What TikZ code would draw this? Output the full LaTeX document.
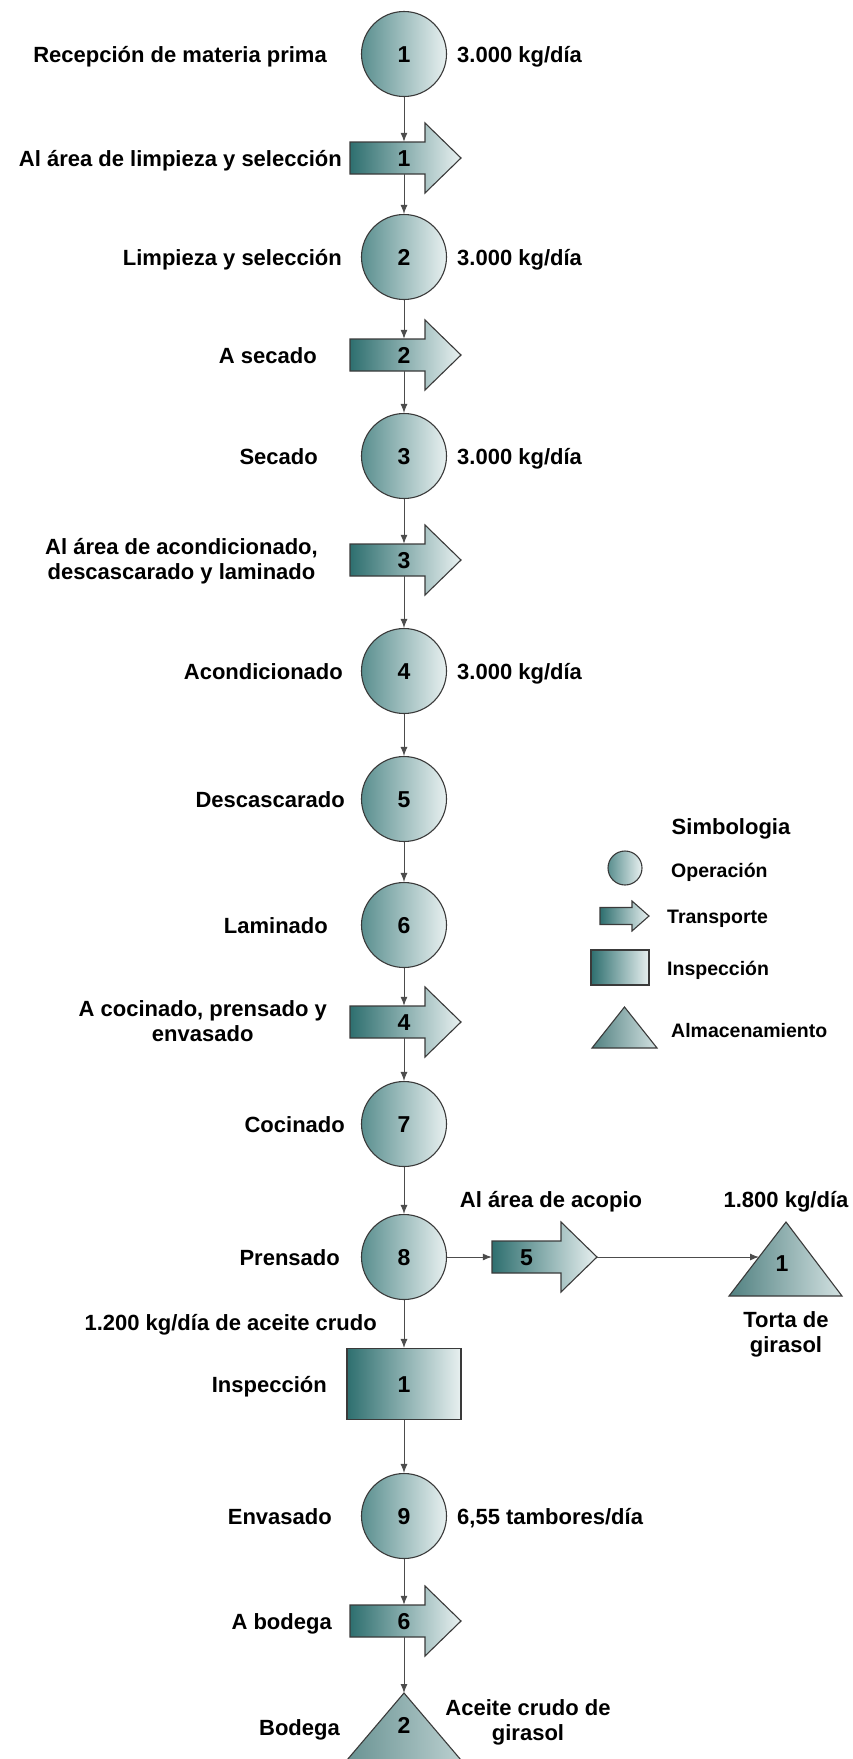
\documentclass[tikz,border=0pt]{standalone}
\usepackage{fontspec}
\setmainfont{Liberation Sans}
\usetikzlibrary{arrows.meta}
\definecolor{verdeosc}{HTML}{2E6F6F}
\definecolor{verdemed}{HTML}{5A8F8F}
\definecolor{verdeclaro}{HTML}{E8F0F0}
\definecolor{borde}{HTML}{3A3A3A}
\newcommand{\flechatransp}[3]{%
  \draw[transp] (#1,#2-16) -- ++(#3,0) -- ++(0,-19) -- ++(36,35) -- ++(-36,35) -- ++(0,-19) -- ++(-#3,0) -- cycle;}
\tikzset{
  operacion/.style={circle,draw=borde,line width=1.1pt,left color=verdemed,right color=verdeclaro,
    minimum size=85pt,inner sep=0pt,text height=16pt,text depth=0pt,font=\fontsize{23}{25}\selectfont\bfseries},
  transp/.style={draw=borde,line width=1.1pt,left color=verdeosc,right color=verdeclaro},
  inspec/.style={rectangle,draw=borde,line width=1.1pt,left color=verdeosc,right color=verdeclaro,
    minimum width=114pt,minimum height=71pt,text height=16pt,text depth=0pt,font=\fontsize{23}{25}\selectfont\bfseries},
  almac/.style={draw=borde,line width=1.1pt,left color=verdemed!90!black,right color=verdeclaro!85!verdemed},
  cifra/.style={inner sep=0pt,minimum height=32pt,text height=16pt,text depth=0pt,font=\fontsize{23}{25}\selectfont\bfseries},
  etiq/.style={anchor=east,inner sep=0pt,text height=16pt,text depth=0pt},
  dato/.style={anchor=west,inner sep=0pt,text height=16pt,text depth=0pt},
  leyenda/.style={anchor=west,inner sep=0pt,text height=14pt,text depth=0pt,font=\fontsize{19.5}{22}\selectfont\bfseries},
  flujo/.style={->,draw=black!70,line width=1pt},
}

\begin{document}
\begin{tikzpicture}[x=1pt,y=-1pt,>={Latex[length=9pt,width=7pt]},font=\fontsize{22}{25}\selectfont\bfseries]
 \useasboundingbox (0,0) rectangle (852,1759);
 \clip (0,0) rectangle (852,1759);
 % eje principal del proceso
 \node[operacion] (c1) at (404,54) {1};
 \flechatransp{350}{158}{75}
 \node[cifra] (t1) at (404,158) {1};
 \node[operacion] (c2) at (404,257) {2};
 \flechatransp{350}{355}{75}
 \node[cifra] (t2) at (404,355) {2};
 \node[operacion] (c3) at (404,456) {3};
 \flechatransp{350}{560}{75}
 \node[cifra] (t3) at (404,560) {3};
 \node[operacion] (c4) at (404,671) {4};
 \node[operacion] (c5) at (404,799) {5};
 \node[operacion] (c6) at (404,925) {6};
 \flechatransp{350}{1022}{75}
 \node[cifra] (t4) at (404,1022) {4};
 \node[operacion] (c7) at (404,1124) {7};
 \node[operacion] (c8) at (404,1257) {8};
 \node[inspec] (i1) at (404,1384) {1};
 \node[operacion] (c9) at (404,1516) {9};
 \flechatransp{350}{1621}{75}
 \node[cifra] (t6) at (404,1621) {6};
 \draw[almac] (404,1693) -- (495,1800) -- (313,1800) -- cycle;
 \node[cifra] (a2) at (404,1725) {2};
 \coordinate (a2top) at (404,1693);
 % rama de la torta
 \flechatransp{492}{1257}{69}
 \node[cifra,minimum width=69pt] (t5) at (526.5,1257) {5};
 \coordinate (t5tip) at (597,1257);
 \draw[almac] (786,1222) -- (842,1296) -- (729,1296) -- cycle;
 \node[cifra] (a1) at (782,1263) {1};
 \coordinate (a1w) at (759,1257);
 % conectores
 \draw[flujo] (c1) -- (t1);
 \draw[flujo] (t1) -- (c2);
 \draw[flujo] (c2) -- (t2);
 \draw[flujo] (t2) -- (c3);
 \draw[flujo] (c3) -- (t3);
 \draw[flujo] (t3) -- (c4);
 \draw[flujo] (c4) -- (c5);
 \draw[flujo] (c5) -- (c6);
 \draw[flujo] (c6) -- (t4);
 \draw[flujo] (t4) -- (c7);
 \draw[flujo] (c7) -- (c8);
 \draw[flujo] (c8) -- (t5);
 \draw[flujo] (t5tip) -- (a1w);
 \draw[flujo] (c8) -- (i1);
 \draw[flujo] (i1) -- (c9);
 \draw[flujo] (c9) -- (t6);
 \draw[flujo] (t6) -- (a2top);
 % etiquetas a la izquierda
 \node[etiq] (l1) at (327,54) {Recepción de materia prima};
 \node[etiq] (l2) at (342,158) {Al área de limpieza y selección};
 \node[etiq] (l3) at (342,257) {Limpieza y selección};
 \node[etiq] (l4) at (317,355) {A secado};
 \node[etiq] (l5) at (318,456) {Secado};
 \node[anchor=east,inner sep=0pt,align=center] (l6) at (318,561) {Al área de acondicionado,\\descascarado y laminado};
 \node[etiq] (l7) at (343,671) {Acondicionado};
 \node[etiq] (l8) at (345,799) {Descascarado};
 \node[etiq] (l9) at (328,925) {Laminado};
 \node[anchor=east,inner sep=0pt,align=center] (l10) at (327,1021) {A cocinado, prensado y\\envasado};
 \node[etiq] (l11) at (345,1124) {Cocinado};
 \node[etiq] (l12) at (340,1257) {Prensado};
 \node[etiq] (l13) at (377,1322) {1.200 kg/día de aceite crudo};
 \node[etiq] (l14) at (327,1384) {Inspección};
 \node[etiq] (l15) at (332,1516) {Envasado};
 \node[etiq] (l16) at (332,1621) {A bodega};
 \node[etiq] (l17) at (340,1727) {Bodega};
 % datos a la derecha
 \node[dato] (d1) at (457,54) {3.000 kg/día};
 \node[dato] (d2) at (457,257) {3.000 kg/día};
 \node[dato] (d3) at (457,456) {3.000 kg/día};
 \node[dato] (d4) at (457,671) {3.000 kg/día};
 \node[dato] (d9) at (457,1516) {6,55 tambores/día};
 \node (d5) at (551,1202) {Al área de acopio};
 \node (d6) at (786,1202) {1.800 kg/día};
 \node[align=center] (d7) at (786,1334) {Torta de\\girasol};
 \node[align=center] (d8) at (528,1722) {Aceite crudo de\\girasol};
 % simbologia
 \node (simb) at (731,829) {Simbologia};
 \node[operacion,minimum size=34pt] (lc) at (625,868) {};
 \draw[transp] (600,907.5) -- (632,907.5) -- (632,901) -- (649,916) -- (632,931) -- (632,924.5) -- (600,924.5) -- cycle;
 \node[inspec,minimum width=58pt,minimum height=35pt] (lr) at (620,967.5) {};
 \draw[almac] (624.5,1007) -- (657,1048) -- (592,1048) -- cycle;
 \node[leyenda] (s1) at (671,870) {Operación};
 \node[leyenda] (s2) at (667,916) {Transporte};
 \node[leyenda] (s3) at (667,968) {Inspección};
 \node[leyenda] (s4) at (671,1030) {Almacenamiento};
\end{tikzpicture}
\end{document}
